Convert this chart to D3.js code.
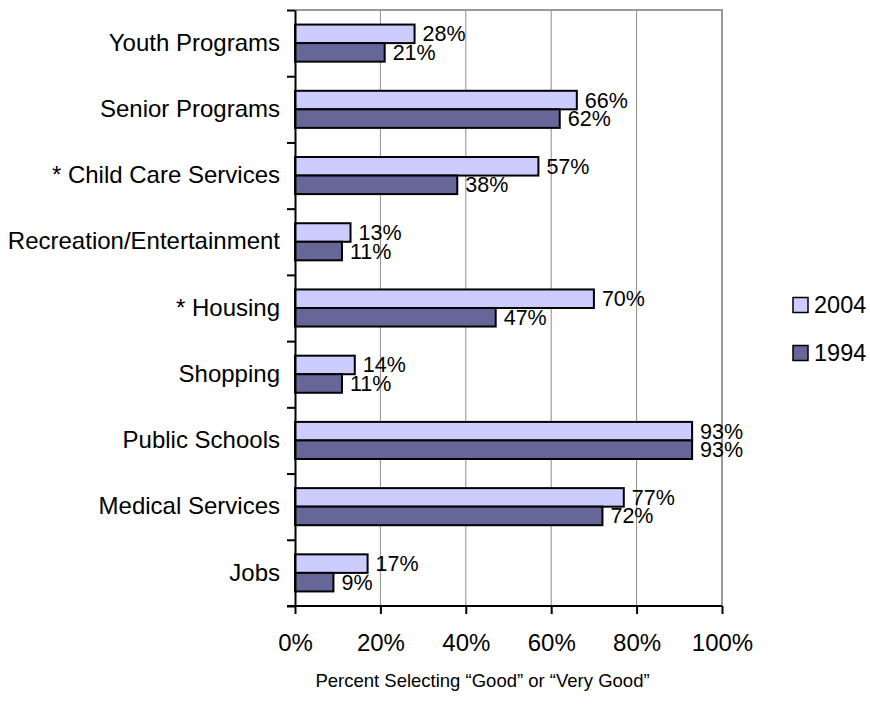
<!DOCTYPE html>
<html>
<head>
<meta charset="utf-8" />
<title>Percent Selecting Good or Very Good</title>
<style>
  body { margin: 0; background: #fff; }
  svg { display: block; font-family: "Liberation Sans", Arial, sans-serif; }
  .grid line { stroke: #8c8c8c; stroke-width: 1px; }
  .bar { stroke: #000; stroke-width: 2px; }
</style>
</head>
<body>
<svg id="chart" width="870" height="723"></svg>
<script src="https://d3js.org/d3.v7.min.js"></script>
<script>
// categories, top to bottom
var categories = ["Youth Programs", "Senior Programs", "* Child Care Services",
  "Recreation/Entertainment", "* Housing", "Shopping", "Public Schools",
  "Medical Services", "Jobs"];
var series = ["2004", "1994"];
var values2004 = [28, 66, 57, 13, 70, 14, 93, 77, 17];
var values1994 = [21, 62, 38, 11, 47, 11, 93, 72, 9];
var xTicks = [0, 20, 40, 60, 80, 100];
var xTitle = "Percent Selecting \u201cGood\u201d or \u201cVery Good\u201d";

var colors = { "2004": "#ccccff", "1994": "#666699" };

var svg = d3.select("#chart");
// plot area edges (window.top is reserved, so use other names)
var plotL = 295, plotR = 722, plotT = 10, plotB = 606;

var rows = categories.map(function(c, i) {
  return { cat: c, "2004": values2004[i], "1994": values1994[i] };
});

var x = d3.scaleLinear().domain([0, 100]).range([plotL, plotR]);
var y = d3.scaleBand().domain(categories).range([plotT, plotB])
  .paddingInner(0.44).paddingOuter(0.22);
var ySub = d3.scaleBand().domain(series).range([0, y.bandwidth()]);
var yEdge = d3.scaleLinear().domain([0, categories.length]).range([plotT, plotB]);

// gridlines
svg.append("g").attr("class", "grid")
  .selectAll("line").data(xTicks.slice(1, -1)).enter().append("line")
  .attr("x1", function(d) { return x(d); }).attr("x2", function(d) { return x(d); })
  .attr("y1", plotT).attr("y2", plotB);

// plot border (top and right)
svg.append("path")
  .attr("d", "M" + plotL + "," + plotT + "H" + plotR + "V" + plotB)
  .attr("fill", "none").attr("stroke", "#999").attr("stroke-width", 2);

// bars
var rowG = svg.append("g").selectAll("g").data(rows).enter().append("g")
  .attr("transform", function(d) { return "translate(0," + y(d.cat) + ")"; });

rowG.selectAll("rect").data(function(d) {
    return series.map(function(s) { return { s: s, v: d[s] }; });
  }).enter().append("rect")
  .attr("class", "bar")
  .attr("x", x(0))
  .attr("y", function(d) { return ySub(d.s); })
  .attr("width", function(d) { return x(d.v) - x(0); })
  .attr("height", ySub.bandwidth())
  .attr("fill", function(d) { return colors[d.s]; });

rowG.selectAll("text").data(function(d) {
    return series.map(function(s) { return { s: s, v: d[s] }; });
  }).enter().append("text")
  .attr("x", function(d) { return x(d.v) + 8; })
  .attr("y", function(d) { return ySub(d.s) + ySub.bandwidth() / 2; })
  .attr("dy", "0.35em")
  .style("font-size", "21.5px")
  .text(function(d) { return d.v + "%"; });

// left axis with ticks between categories
svg.append("g")
  .attr("transform", "translate(" + plotL + ",0)")
  .call(d3.axisLeft(yEdge).tickValues(d3.range(categories.length + 1))
    .tickFormat("").tickSize(8).tickSizeOuter(0))
  .call(function(g) {
    g.selectAll("line, path").attr("stroke", "#000").attr("stroke-width", 2);
  });

svg.append("g")
  .attr("transform", "translate(" + plotL + ",0)")
  .call(d3.axisLeft(y).tickSize(0).tickPadding(15))
  .call(function(g) {
    g.select(".domain").remove();
    g.selectAll("text").style("font-size", "24px").attr("font-family", null)
      .attr("fill", "#000");
  });

// bottom axis
svg.append("g")
  .attr("transform", "translate(0," + plotB + ")")
  .call(d3.axisBottom(x).tickValues(xTicks).tickSize(8).tickSizeOuter(0)
    .tickPadding(20).tickFormat(function(d) { return d + "%"; }))
  .call(function(g) {
    g.select(".domain").attr("d", "M" + (plotL - 8) + ",0H" + plotR);
    g.selectAll("line, path").attr("stroke", "#000").attr("stroke-width", 2);
    g.selectAll("text").style("font-size", "24px").attr("font-family", null)
      .attr("fill", "#000");
  });

// axis title
svg.append("text")
  .attr("x", (plotL + plotR) / 2 - 26)
  .attr("y", 681)
  .attr("dy", "0.35em")
  .attr("text-anchor", "middle")
  .style("font-size", "18.5px")
  .text(xTitle);

// legend
var legend = svg.append("g").selectAll("g").data(series).enter().append("g")
  .attr("transform", function(d, i) { return "translate(793," + (305 + i * 48) + ")"; });
legend.append("rect")
  .attr("x", 0).attr("y", -7.5).attr("width", 15).attr("height", 15)
  .attr("fill", function(d) { return colors[d]; })
  .attr("stroke", "#000").attr("stroke-width", 1.5);
legend.append("text")
  .attr("x", 21).attr("dy", "0.35em")
  .style("font-size", "23.5px")
  .text(function(d) { return d; });
</script>
</body>
</html>
